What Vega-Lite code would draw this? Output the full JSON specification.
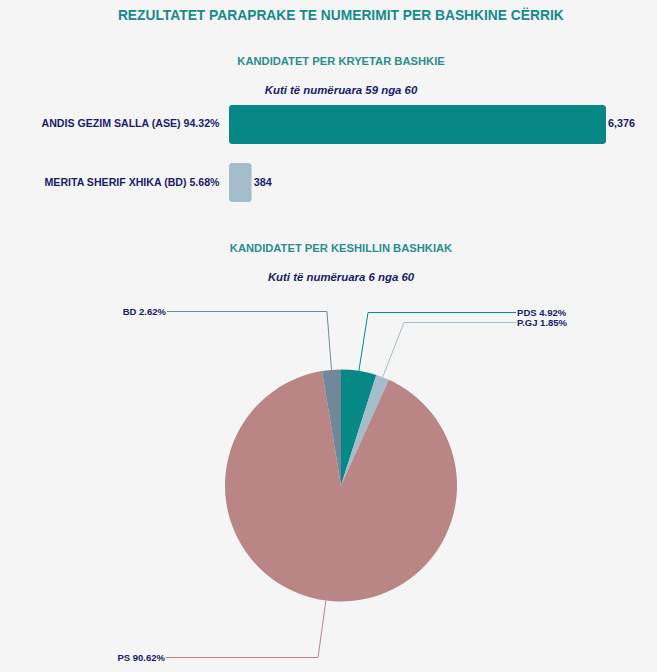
{
  "$schema": "https://vega.github.io/schema/vega-lite/v6.json",
  "background": "#f5f5f5",
  "padding": {"left": 40, "top": 8, "right": 21, "bottom": 3},
  "title": {"text": "REZULTATET PARAPRAKE TE NUMERIMIT PER BASHKINE CËRRIK", "font": "Liberation Sans", "fontSize": 13.8, "fontWeight": "bold", "color": "#178b8b", "anchor": "middle", "dx": 3, "offset": 34},
  "config": {"view": {"stroke": null}, "font": "Liberation Sans"},
  "resolve": {"scale": {"color": "independent", "x": "independent", "y": "independent"}},
  "spacing": 36,
  "vconcat": [
    {
      "title": {"text": "KANDIDATET PER KRYETAR BASHKIE", "subtitle": "Kuti të numëruara 59 nga 60", "font": "Liberation Sans", "fontSize": 11.2, "fontWeight": "bold", "color": "#2a8d8d", "subtitleFont": "Liberation Sans", "subtitleFontSize": 11.4, "subtitleFontStyle": "italic", "subtitleFontWeight": "bold", "subtitleColor": "#1a1a6e", "subtitlePadding": 17, "anchor": "middle", "dx": -76.5, "offset": 4},
      "width": 377,
      "height": 107,
      "data": {"values": [
        {"kandidati": "ANDIS GEZIM SALLA (ASE) 94.32%", "vota": 6376},
        {"kandidati": "MERITA SHERIF XHIKA (BD) 5.68%", "vota": 384}
      ]},
      "encoding": {
        "y": {"field": "kandidati", "type": "nominal", "sort": null, "scale": {"paddingInner": 0.33, "paddingOuter": 0.086}, "axis": {"title": null, "ticks": false, "domain": false, "labelFont": "Liberation Sans", "labelFontSize": 10.6, "labelFontWeight": "bold", "labelColor": "#1a1a6e", "labelPadding": 10, "labelLimit": 300}},
        "x": {"field": "vota", "type": "quantitative", "scale": {"domain": [0, 6376], "nice": false}, "axis": null}
      },
      "layer": [
        {"mark": {"type": "bar", "cornerRadius": 3}, "encoding": {"color": {"field": "kandidati", "type": "nominal", "scale": {"range": ["#068986", "#a5bdcb"]}, "legend": null}}},
        {"mark": {"type": "text", "align": "left", "dx": 2, "font": "Liberation Sans", "fontSize": 10.8, "fontWeight": "bold", "color": "#1a1a6e"}, "encoding": {"text": {"field": "vota", "type": "quantitative", "format": ","}}}
      ]
    },
    {
      "title": {"text": "KANDIDATET PER KESHILLIN BASHKIAK", "subtitle": "Kuti të numëruara 6 nga 60", "font": "Liberation Sans", "fontSize": 11.2, "fontWeight": "bold", "color": "#2a8d8d", "subtitleFont": "Liberation Sans", "subtitleFontSize": 11.4, "subtitleFontStyle": "italic", "subtitleFontWeight": "bold", "subtitleColor": "#1a1a6e", "subtitlePadding": 17, "anchor": "middle", "offset": 19},
      "width": 224,
      "height": 367,
      "layer": [
        {
          "data": {"values": [
            {"partia": "PDS", "perqindja": 4.92, "rendi": 1},
            {"partia": "P.GJ", "perqindja": 1.85, "rendi": 2},
            {"partia": "PS", "perqindja": 90.62, "rendi": 3},
            {"partia": "BD", "perqindja": 2.62, "rendi": 4}
          ]},
          "mark": {"type": "arc", "outerRadius": 116},
          "encoding": {
            "theta": {"field": "perqindja", "type": "quantitative", "stack": true},
            "order": {"field": "rendi", "type": "quantitative"},
            "color": {"field": "partia", "type": "nominal", "scale": {"domain": ["PDS", "P.GJ", "PS", "BD"], "range": ["#068986", "#a5bdcb", "#b98585", "#71889a"]}, "legend": null}
          }
        },
        {
          "data": {"values": [
            {"partia": "BD", "pika": 1, "px": -0.082, "py": 0.997},
            {"partia": "BD", "pika": 2, "px": -0.121, "py": 1.5},
            {"partia": "BD", "pika": 3, "px": -1.5, "py": 1.5},
            {"partia": "PDS", "pika": 1, "px": 0.154, "py": 0.988},
            {"partia": "PDS", "pika": 2, "px": 0.233, "py": 1.491},
            {"partia": "PDS", "pika": 3, "px": 1.509, "py": 1.491},
            {"partia": "P.GJ", "pika": 1, "px": 0.359, "py": 0.933},
            {"partia": "P.GJ", "pika": 2, "px": 0.543, "py": 1.405},
            {"partia": "P.GJ", "pika": 3, "px": 1.509, "py": 1.405},
            {"partia": "PS", "pika": 1, "px": -0.13, "py": -0.991},
            {"partia": "PS", "pika": 2, "px": -0.198, "py": -1.483},
            {"partia": "PS", "pika": 3, "px": -1.509, "py": -1.483}
          ]},
          "mark": {"type": "line", "strokeWidth": 1},
          "encoding": {
            "x": {"field": "px", "type": "quantitative", "scale": {"domain": [-0.9655, 0.9655], "nice": false, "zero": false}, "axis": null},
            "y": {"field": "py", "type": "quantitative", "scale": {"domain": [-1.582, 1.582], "nice": false, "zero": false}, "axis": null},
            "order": {"field": "pika", "type": "quantitative"},
            "detail": {"field": "partia"},
            "color": {"field": "partia", "type": "nominal", "scale": {"domain": ["PDS", "P.GJ", "PS", "BD"], "range": ["#068986", "#a5bdcb", "#b98585", "#8a9cab"]}, "legend": null}
          }
        },
        {
          "data": {"values": [
            {"etiketa": "BD 2.62%", "px": -1.5, "py": 1.5},
            {"etiketa": "PS 90.62%", "px": -1.509, "py": -1.483}
          ]},
          "mark": {"type": "text", "align": "right", "baseline": "middle", "dx": -1, "font": "Liberation Sans", "fontSize": 9.5, "fontWeight": "bold", "color": "#1a1a6e"},
          "encoding": {
            "x": {"field": "px", "type": "quantitative"},
            "y": {"field": "py", "type": "quantitative"},
            "text": {"field": "etiketa"}
          }
        },
        {
          "data": {"values": [
            {"etiketa": "PDS 4.92%", "px": 1.509, "py": 1.491},
            {"etiketa": "P.GJ 1.85%", "px": 1.509, "py": 1.405}
          ]},
          "mark": {"type": "text", "align": "left", "baseline": "middle", "dx": 1, "font": "Liberation Sans", "fontSize": 9.5, "fontWeight": "bold", "color": "#1a1a6e"},
          "encoding": {
            "x": {"field": "px", "type": "quantitative"},
            "y": {"field": "py", "type": "quantitative"},
            "text": {"field": "etiketa"}
          }
        }
      ]
    }
  ]
}
